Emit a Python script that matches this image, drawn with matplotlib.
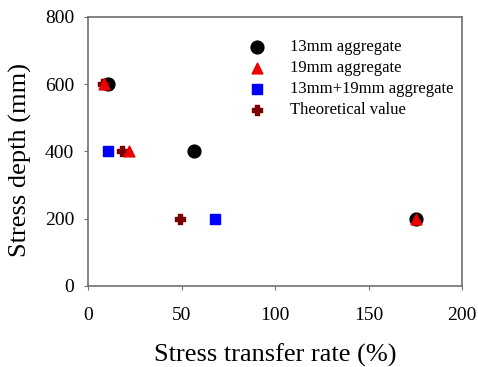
import matplotlib.pyplot as plt

plt.rcParams["font.family"] = ["Liberation Serif", "DejaVu Serif"]

# stress transfer rate (%) per depth (mm)
depth = [600, 400, 200]
rate_13mm = [10.5, 56.5, 175.5]
rate_19mm = [8.6, 21.9, 175.5]
rate_mixed = [10.0, 10.9, 67.7]
rate_theory = [8.0, 18.3, 49.0]

fig = plt.figure(figsize=(4.78, 3.67), dpi=100)
ax = fig.add_axes([0.184, 0.221, 0.783, 0.733])

ax.scatter(rate_mixed[:1], depth[:1], marker="s", s=55, color="#0000ff", zorder=2)
ax.scatter(rate_13mm, depth, marker="o", s=85, color="black", label="13mm aggregate", zorder=3)
ax.scatter(rate_19mm, depth, marker="^", s=60, color="#ee0000", label="19mm aggregate", zorder=4)
ax.scatter(rate_mixed[1:], depth[1:], marker="s", s=55, color="#0000ff",
           label="13mm+19mm aggregate", zorder=3)
ax.scatter(rate_theory, depth, marker="P", s=55, color="#7a0000", label="Theoretical value", zorder=3)

ax.set_xlim(0, 200)
ax.set_ylim(0, 800)
ax.set_xticks([0, 50, 100, 150, 200])
ax.set_yticks([0, 200, 400, 600, 800])
ax.tick_params(labelsize=14, length=3, color="#707070", direction="out")
ax.tick_params(axis="y", pad=7)
ax.tick_params(axis="x", pad=12)
ax.set_xlabel("Stress transfer rate (%)", fontsize=19, labelpad=14)
ax.set_ylabel("Stress depth (mm)", fontsize=19)
ax.yaxis.set_label_coords(-0.15, 0.468)
for sp in ax.spines.values():
    sp.set_color("#707070")
    sp.set_linewidth(1.2)

ax.legend(loc="upper left", bbox_to_anchor=(0.406, 0.916), frameon=False, fontsize=12,
          handletextpad=1.0, labelspacing=0.3, handlelength=2.0,
          borderpad=0, borderaxespad=0)

fig.savefig("out.png", dpi=100)
